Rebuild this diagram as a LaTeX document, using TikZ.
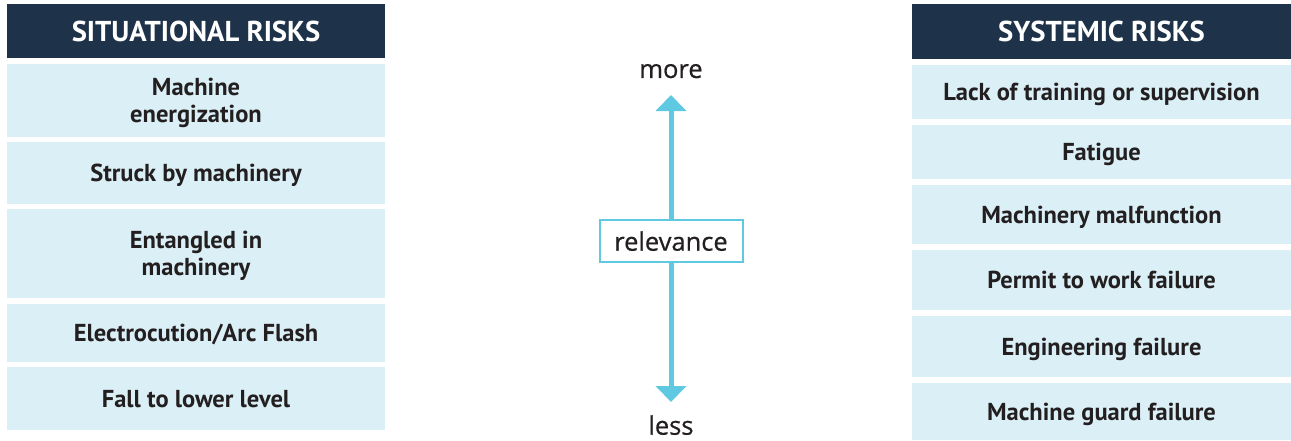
\documentclass[tikz,border=0pt]{standalone}
\usepackage{fontspec}
\setmainfont{PT Sans}
\newfontfamily\midfont{Open Sans}[FakeBold=0.6]
\usetikzlibrary{arrows.meta}
\definecolor{navy}{HTML}{1E3349}
\definecolor{pale}{HTML}{DAEFF6}
\definecolor{cyanarrow}{HTML}{5EC9E1}
\definecolor{ink}{HTML}{231F20}
\tikzset{
  head/.style={fill=navy, text=white, font=\bfseries\fontsize{28.7}{30}\selectfont, inner sep=0pt, align=center, text depth=0pt},
  item/.style={fill=pale, text=ink, font=\bfseries\fontsize{24.5}{27}\selectfont, inner sep=0pt, align=center, text depth=0pt},
  midtext/.style={text=ink, font=\midfont\fontsize{25.5}{28}\selectfont, inner sep=0pt, text depth=0pt},
  axis/.style={draw=cyanarrow, line width=5pt, -{Triangle[width=30pt,length=16pt]}}
}
\begin{document}
\begin{tikzpicture}[x=1pt,y=-1pt]
\useasboundingbox (0,0) rectangle (1291,440);
% left column
\node[head, minimum width=378pt, minimum height=54pt] (lh) at (196,31) {SITUATIONAL RISKS};
\node[item, minimum width=378pt, minimum height=73pt] (l1) at (196,100.5) {Machine\\energization};
\node[item, minimum width=378pt, minimum height=62pt] (l2) at (196,173) {Struck by machinery};
\node[item, minimum width=378pt, minimum height=89pt] (l3) at (196,253.5) {Entangled in\\machinery};
\node[item, minimum width=378pt, minimum height=58pt] (l4) at (196,333) {Electrocution/Arc Flash};
\node[item, minimum width=378pt, minimum height=63pt] (l5) at (196,398.5) {Fall to lower level};
% right column
\node[head, minimum width=379pt, minimum height=55pt] (rh) at (1101.5,31.5) {SYSTEMIC RISKS};
\node[item, minimum width=379pt, minimum height=54pt] (r1) at (1101.5,92) {Lack of training or supervision};
\node[item, minimum width=379pt, minimum height=54pt] (r2) at (1101.5,152) {Fatigue};
\node[item, minimum width=379pt, minimum height=59pt] (r3) at (1101.5,214.5) {Machinery malfunction};
\node[item, minimum width=379pt, minimum height=60pt] (r4) at (1101.5,280) {Permit to work failure};
\node[item, minimum width=379pt, minimum height=61pt] (r5) at (1101.5,346.5) {Engineering failure};
\node[item, minimum width=379pt, minimum height=57pt] (r6) at (1101.5,411.5) {Machine guard failure};
% middle axis
\node[midtext, draw=cyanarrow, line width=2pt, fill=white, minimum width=143pt, minimum height=42pt] (rel) at (671,241) {relevance};
\coordinate (top) at (671,95);
\coordinate (bot) at (671,402);
\draw[axis] (rel.north) -- (top);
\draw[axis] (rel.south) -- (bot);
\node[midtext] (more) at (671,71) {more};
\node[midtext] (less) at (671,425) {less};
\end{tikzpicture}
\end{document}
